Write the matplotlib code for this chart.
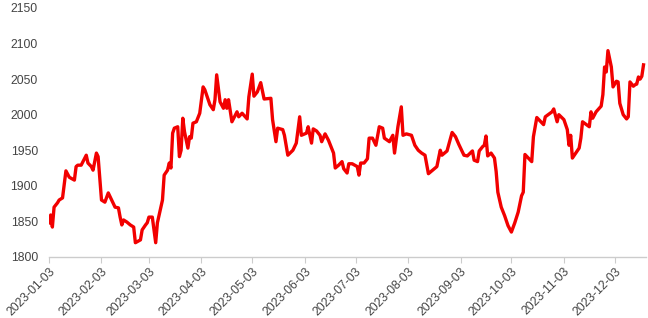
import matplotlib
matplotlib.use("Agg")
import matplotlib.pyplot as plt
import matplotlib.dates as mdates
import pandas as pd
import numpy as np

start_date = "2023-01-03"
# day offsets from 2023-01-03
day_offsets = [0, 1, 2, 3, 5, 6, 8, 10, 12, 15, 16, 17, 19, 22, 23, 25, 26, 28, 29, 31,
               33, 35, 37, 39, 41, 42, 43, 44, 46, 48, 50, 51, 54, 55, 57, 58, 59, 61, 62, 63,
               64, 67, 68, 70, 71, 72, 73, 74, 76, 77, 78, 79, 80, 82, 83, 84, 85, 87, 89, 91,
               92, 95, 97, 98, 99, 101, 103, 104, 105, 106, 108, 111, 112, 114, 117, 118, 120, 121, 123, 125,
               127, 131, 132, 134, 135, 138, 139, 141, 144, 146, 148, 149, 152, 153, 155, 156, 158, 160, 161, 163,
               165, 168, 169, 171, 173, 174, 176, 177, 179, 182, 183, 184, 186, 188, 189, 191, 193, 195, 197, 198,
               201, 203, 204, 206, 208, 209, 211, 214, 216, 218, 220, 222, 224, 229, 231, 232, 235, 238, 240, 242,
               245, 247, 250, 251, 253, 254, 256, 257, 258, 259, 261, 263, 264, 265, 267, 269, 271, 273, 275, 277,
               279, 280, 281, 283, 285, 286, 288, 292, 293, 297, 298, 300, 301, 304, 306, 307, 308, 309, 311, 313,
               314, 315, 319, 320, 321, 323, 326, 327, 328, 329, 330, 332, 333, 335, 336, 337, 339, 341, 342, 343,
               345, 346, 347, 348, 349, 350, 351]
prices = [1848, 1859, 1842, 1870, 1876, 1880, 1883, 1921, 1912, 1908, 1927, 1929, 1929, 1943, 1932, 1927, 1922, 1946, 1941, 1880,
          1877, 1890, 1880, 1870, 1869, 1856, 1845, 1852, 1849, 1845, 1842, 1820, 1824, 1838, 1845, 1848, 1856, 1856, 1838, 1820,
          1848, 1880, 1915, 1922, 1932, 1925, 1974, 1981, 1983, 1941, 1950, 1995, 1976, 1953, 1969, 1967, 1988, 1990, 2002, 2039,
          2035, 2014, 2007, 2021, 2056, 2018, 2009, 2021, 2009, 2021, 1990, 2004, 1997, 2002, 1994, 2025, 2057, 2026, 2032, 2045,
          2022, 2023, 1993, 1962, 1981, 1979, 1971, 1943, 1950, 1960, 1997, 1971, 1974, 1983, 1960, 1980, 1977, 1971, 1962, 1973,
          1964, 1946, 1925, 1929, 1934, 1924, 1918, 1931, 1931, 1927, 1915, 1932, 1932, 1938, 1967, 1967, 1957, 1983, 1981, 1967,
          1962, 1971, 1946, 1983, 2011, 1971, 1973, 1971, 1957, 1950, 1946, 1943, 1917, 1927, 1950, 1943, 1949, 1975, 1969, 1958,
          1943, 1942, 1949, 1936, 1934, 1949, 1955, 1957, 1970, 1942, 1946, 1939, 1920, 1891, 1870, 1858, 1844, 1835, 1848, 1863,
          1886, 1891, 1944, 1939, 1934, 1969, 1996, 1986, 1997, 2004, 2008, 1990, 2000, 1993, 1979, 1957, 1971, 1939, 1946, 1953,
          1967, 1990, 1983, 2004, 1995, 2004, 2012, 2028, 2067, 2060, 2090, 2067, 2039, 2047, 2046, 2016, 2000, 1994, 1997, 2046,
          2040, 2042, 2043, 2053, 2050, 2054, 2070]

tick_labels = ["2023-01-03", "2023-02-03", "2023-03-03", "2023-04-03", "2023-05-03", "2023-06-03",
               "2023-07-03", "2023-08-03", "2023-09-03", "2023-10-03", "2023-11-03", "2023-12-03"]
y_ticks = [1800, 1850, 1900, 1950, 2000, 2050, 2100, 2150]

dates = pd.Timestamp(start_date) + pd.to_timedelta(day_offsets, unit="D")

plt.rcParams['font.family'] = ['Liberation Sans', 'DejaVu Sans']

fig = plt.figure(figsize=(6.48, 3.18), dpi=100)
ax = fig.add_axes([0.0756, 0.192, 0.9214, 0.783])

ax.plot(dates, prices, color='#f20000', lw=2.4, solid_joinstyle='round')

ax.set_ylim(1800, 2150)
ax.set_yticks(y_ticks)
ax.set_yticklabels([str(v) for v in y_ticks])
tick_dates = pd.to_datetime(tick_labels)
ax.set_xticks(tick_dates)
ax.set_xticklabels(tick_labels, rotation=45, ha='right', rotation_mode='anchor')
ax.set_xlim(pd.Timestamp(start_date), pd.Timestamp(start_date) + pd.Timedelta(days=352.5))

for s in ['top', 'right', 'left']:
    ax.spines[s].set_visible(False)
ax.spines['bottom'].set_color('#cccccc')
ax.spines['bottom'].set_linewidth(1.0)
ax.tick_params(axis='y', length=0, labelsize=8.8, labelcolor='#444444', pad=8)
ax.tick_params(axis='x', length=4, color='#cccccc', labelsize=8.8, labelcolor='#444444', pad=2)

fig.savefig('out.png', dpi=100)
